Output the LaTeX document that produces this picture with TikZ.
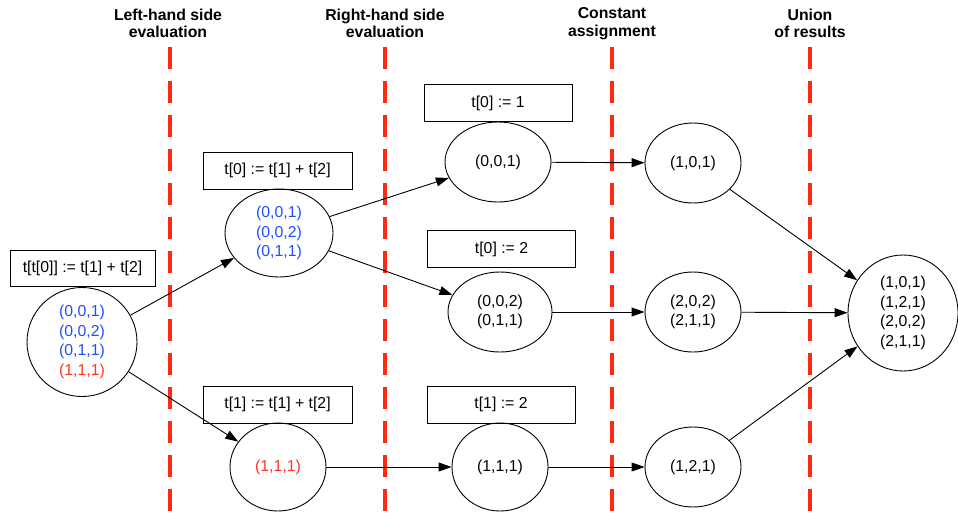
\documentclass[tikz,border=0pt]{standalone}
\usepackage{fontspec}
\setmainfont{Liberation Sans}
\usetikzlibrary{shapes.geometric,arrows.meta}
\definecolor{stageRed}{HTML}{FF2A12}
\definecolor{valBlue}{HTML}{1F4DFF}
\definecolor{valRed}{HTML}{FF3322}
\begin{document}
\begin{tikzpicture}[x=1pt,y=-1pt,
  state/.style={draw,ellipse,line width=0.9pt,inner sep=0pt,align=center,
    font=\fontsize{15.8}{19.5}\selectfont},
  stmt/.style={draw,rectangle,line width=0.9pt,inner sep=0pt,minimum width=148pt,
    minimum height=37pt,font=\fontsize{15.8}{18}\selectfont},
  stage/.style={align=center,font=\fontsize{15.8}{17.5}\selectfont\bfseries},
  divider/.style={draw=stageRed,line width=3.2pt,dash pattern=on 22pt off 12pt},
  flow/.style={draw,line width=0.9pt,-{Triangle[length=13pt,width=9pt]}}]
\useasboundingbox (0,0) rectangle (958,514);

% stage dividers
\foreach \xx in {170,385,612,810}
  \draw[divider] (\xx,47) -- (\xx,514);

% stage titles
\node[stage] (t1) at (168,23.5) {Left-hand side\\evaluation};
\node[stage] (t2) at (385,23.5) {Right-hand side\\evaluation};
\node[stage] (t3) at (612,23.5) {Constant\\assignment};
\node[stage] (t4) at (810,23.5) {Union\\of results};

% states
\node[state,minimum width=110pt,minimum height=109pt] (a) at (82,342)
  {\textcolor{valBlue}{(0,0,1)}\\\textcolor{valBlue}{(0,0,2)}\\\textcolor{valBlue}{(0,1,1)}\\\textcolor{valRed}{(1,1,1)}};
\node[state,minimum width=108pt,minimum height=88pt] (b) at (279,233)
  {\textcolor{valBlue}{(0,0,1)}\\\textcolor{valBlue}{(0,0,2)}\\\textcolor{valBlue}{(0,1,1)}};
\node[state,minimum width=106pt,minimum height=80pt] (c) at (498,162) {(0,0,1)};
\node[state,minimum width=104pt,minimum height=80pt] (d) at (500,312) {(0,0,2)\\(0,1,1)};
\node[state,minimum width=96pt,minimum height=88pt] (e) at (278,467) {\textcolor{valRed}{(1,1,1)}};
\node[state,minimum width=96pt,minimum height=88pt] (f) at (500,467) {(1,1,1)};
\node[state,minimum width=96pt,minimum height=80pt] (g) at (693,163) {(1,0,1)};
\node[state,minimum width=96pt,minimum height=80pt] (h) at (693,312) {(2,0,2)\\(2,1,1)};
\node[state,minimum width=96pt,minimum height=80pt] (i) at (693,467) {(1,2,1)};
\node[state,minimum width=110pt,minimum height=116pt] (j) at (903,313)
  {(1,0,1)\\(1,2,1)\\(2,0,2)\\(2,1,1)};

% statements
\node[stmt,minimum width=145pt,minimum height=36pt] (sa) at (82.5,268) {t[t[0]] := t[1] + t[2]};
\node[stmt,minimum width=149pt] (sb) at (277.5,170.5) {t[0] := t[1] + t[2]};
\node[stmt] (sc) at (498,103) {t[0] := 1};
\node[stmt] (sd) at (501.5,249) {t[0] := 2};
\node[stmt,minimum width=149pt] (se) at (277.5,404.5) {t[1] := t[1] + t[2]};
\node[stmt] (sf) at (501,404.5) {t[1] := 2};

% transitions
\draw[flow] (a) -- (b);
\draw[flow] (a) -- (e);
\draw[flow] (b) -- (c);
\draw[flow] (b) -- (d);
\draw[flow] (c) -- (g);
\draw[flow] (d) -- (h);
\draw[flow] (e) -- (f);
\draw[flow] (f) -- (i);
\draw[flow] (g) -- (j);
\draw[flow] (h) -- (j);
\draw[flow] (i) -- (j);
\end{tikzpicture}
\end{document}
